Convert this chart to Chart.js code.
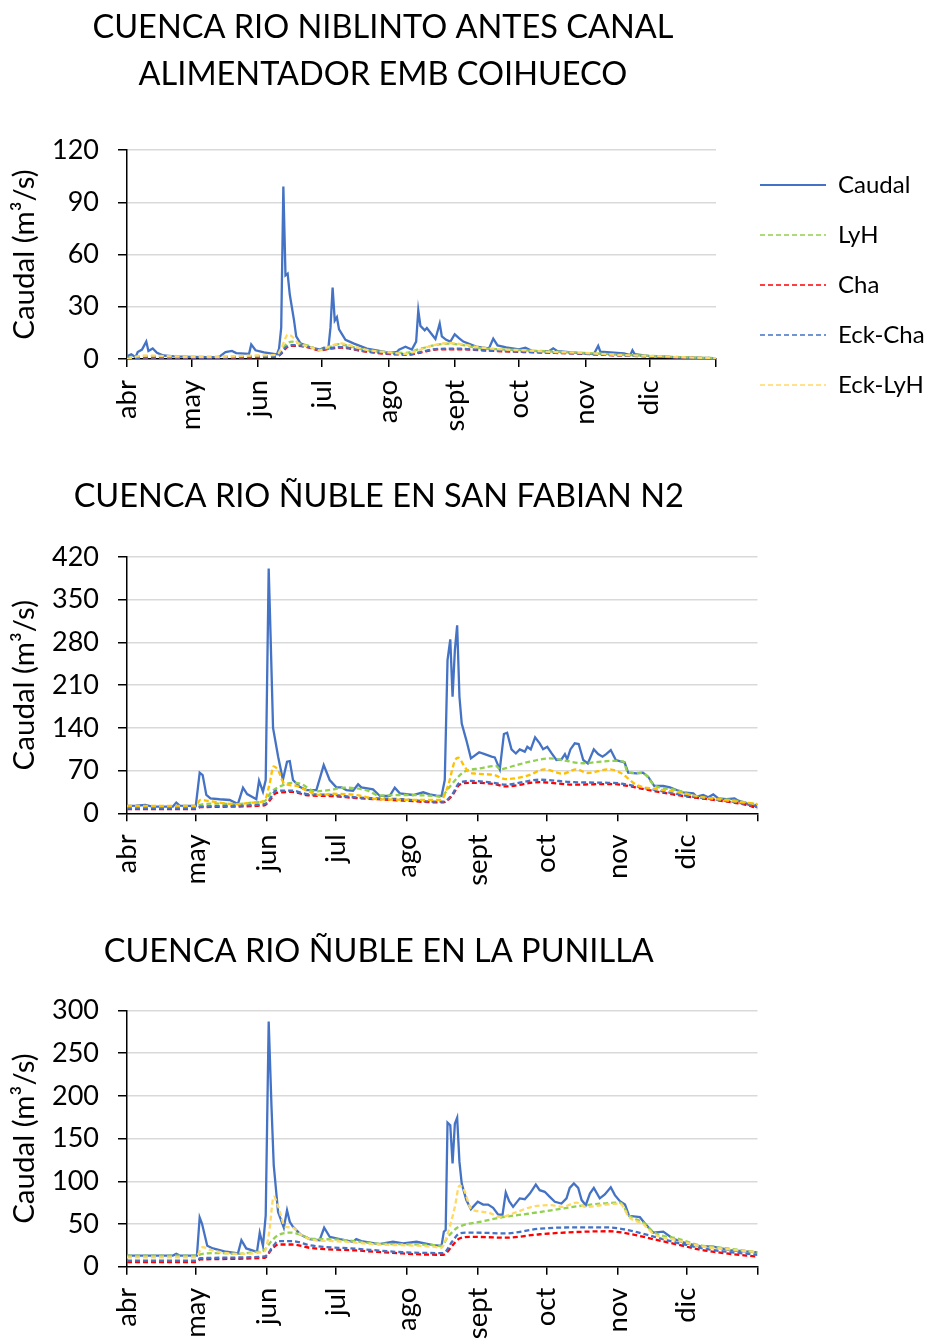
<!DOCTYPE html>
<html>
<head>
<meta charset="utf-8">
<script src="https://cdn.jsdelivr.net/npm/chart.js@4.4.1/dist/chart.umd.min.js"></script>
<style>
  body { margin: 0; background: #fff; overflow: hidden; }
  .box { position: absolute; left: 0; }
</style>
</head>
<body>
<div class="box" style="top:0"><canvas id="c1" width="928" height="445"></canvas></div>
<div class="box" style="top:445px"><canvas id="c2" width="760" height="450"></canvas></div>
<div class="box" style="top:895px"><canvas id="c3" width="760" height="447"></canvas></div>
<script>
// days counted from 1 april, month starts on the x axis
const monthDays = [0, 30, 61, 91, 122, 153, 183, 214, 244, 275];
const monthNames = ['abr', 'may', 'jun', 'jul', 'ago', 'sept', 'oct', 'nov', 'dic'];
const seriesNames = ['Caudal', 'LyH', 'Cha', 'Eck-Cha', 'Eck-LyH'];

// ---- niblinto [day, m3/s]
const caudal1 = [[0,1.5],[2,2.7],[4,1],[5,4],[7,5.4],[9,10],[10,4.6],[12,6],[14,3.6],[17,2],[22,1.5],[30,1.2],[38,1],[43,1.2],[46,4],[49,4.6],[51,3.4],[57,3],[58,8.4],[60,5],[64,3.8],[70,2.7],[71,6],[72,18],[73,99],[74,48],[75,49],[76,37],[78,22],[79,13],[81,9],[85,7],[90,5.4],[92,6.5],[94,6],[95,18],[96,41],[97,22],[98,24],[99,17],[102,11],[106,8.8],[112,6],[121,4],[126,4],[127,5.4],[130,7],[133,5.4],[135,10],[136,28],[137,19],[139,16.5],[140,17.8],[142,14.6],[144,11.5],[146,20.4],[147,13],[149,11],[151,10],[153,14.2],[155,12],[157,10],[163,7.1],[169,6.1],[171,11.7],[173,7.8],[177,6.7],[183,5.5],[186,6.5],[189,4.7],[197,4.5],[199,6.1],[201,4.5],[213,3.2],[218,2.8],[220,7.6],[221,4.2],[232,3.2],[235,2.3],[236,5],[237,2.8],[244,1.6],[257,0.9],[275,0.4]];
const lyh1 = [[0,0.5],[5,1.2],[15,1.5],[30,1.2],[45,1.3],[60,1.6],[70,2],[72,4],[74,8],[77,10],[80,9],[85,7.5],[90,5.2],[95,7],[99,8.5],[105,7],[112,5],[121,4],[130,3.5],[136,5.5],[142,7.5],[150,8.8],[157,8],[163,6.5],[175,5.5],[185,5],[200,4.2],[213,3.5],[230,2.5],[244,1.8],[260,1],[275,0.5]];
const cha1 = [[0,0.3],[10,0.7],[30,0.7],[50,0.8],[65,1.2],[70,1.5],[72,3],[74,6],[76,7.5],[80,7.5],[85,6.5],[90,5],[95,6],[100,6.5],[110,4.5],[121,3],[132,2.5],[138,4],[145,5.5],[155,5.6],[165,5],[185,4],[200,3.5],[213,3],[230,2],[244,1.5],[260,0.8],[275,0.4]];
const eckCha1 = [[0,0.4],[10,0.8],[30,0.8],[50,0.9],[65,1.3],[70,1.6],[72,3.5],[74,6.5],[76,8],[80,7.8],[85,6.8],[90,5.2],[95,6.3],[100,6.8],[110,4.7],[121,3.2],[132,2.7],[138,4.3],[145,5.8],[155,5.9],[165,5.2],[185,4.2],[200,3.6],[213,3.1],[230,2.1],[244,1.6],[260,0.9],[275,0.5]];
const eckLyh1 = [[0,0],[5,1.5],[10,2],[20,1.5],[30,1.2],[45,1.3],[60,2],[70,2.5],[72,6],[74,12],[75,14],[77,13],[80,9],[85,7.2],[90,5],[95,7.5],[100,9],[105,7.5],[112,5.2],[121,4],[130,3],[136,5],[142,7.5],[150,9.2],[157,8.3],[163,7],[175,5.5],[185,5],[200,4],[213,3.5],[230,2.3],[244,1.8],[260,1],[275,0.5]];

// ---- nuble en san fabian
const caudal2 = [[0,12],[4,12.5],[8,13.6],[11,11],[20,11],[21.5,17.5],[23,12.5],[30,12],[31.7,66.5],[33,62.7],[34.6,30],[36.4,24.5],[40.4,23],[44.8,21.8],[48.4,15.3],[50.6,42],[52.4,31.6],[56.4,23],[57.6,53.5],[59.3,35.5],[60.5,54.5],[61.8,401],[62.6,294],[63.7,140],[65.9,93],[68,55],[69.8,84.5],[71,85.6],[72.4,54.5],[75.3,43.6],[78.3,38],[82.6,38],[85.8,79],[88.4,54.5],[91.3,42.5],[93.5,42.5],[95.7,38],[98.6,37],[100.8,47.5],[102.2,42.5],[107.3,39.3],[110.3,28.4],[114.6,28.4],[116.8,42],[119,32.7],[124.8,30],[129.2,34.4],[132,31],[135,29],[137.2,28.4],[138.6,54.5],[139.8,251],[141,285],[142,191],[143,267],[144,308],[145,191],[146,147],[148,120],[150,90],[153.6,100],[156,97],[159,93],[160.4,91.6],[162.6,72],[164.4,130],[165.8,132],[167.7,104.7],[169.6,98],[171.3,104.7],[173.5,101],[174.6,109],[176.1,104.7],[178,124.4],[180,114.6],[181.5,105],[183.3,109],[185,99.3],[187.3,87.3],[189.5,88.4],[191,97],[192,88.4],[193.4,104.7],[195.3,114.6],[197,113.5],[199,87.3],[201,81.8],[203.6,104.7],[205.5,97],[207.4,92.7],[209,97],[211,103.6],[213.2,87.3],[215.7,84.6],[217,83.5],[218.6,66.6],[222.2,65.5],[225,66.6],[227.3,60],[230,44.7],[233.9,44.7],[236.8,42.5],[239.7,38.2],[242.6,34.4],[247,32.7],[248.4,27.3],[251.3,30],[253.5,26.2],[255.7,31],[257.9,24.5],[261.5,23],[265,24.5],[266.6,20.7],[270.2,16.4],[273,11],[275,15.3]];
const lyh2 = [[0,10],[30,10],[32,14],[40,16],[48,15],[56,18],[60,20],[63,35],[68,46],[72,50],[76,48],[82,36],[88,38],[95,42],[105,37],[110,29],[120,30],[135,28],[137,27],[140,40],[144,58],[147,68],[154,73.6],[161,77.5],[162.6,72],[168.4,77.5],[175.7,84.6],[184.4,90],[190,87],[199,82],[204.8,84],[212,86],[216.4,85],[218.6,66.6],[225,66],[230,46],[239.7,38],[248,28],[263,22],[275,14.7]];
const cha2 = [[0,7],[30,7],[32,10],[60,13],[62,20],[65,33],[72,35],[78,30],[90,28],[100,25],[120,21],[135,18],[138,18],[142,30],[145,47],[150,50],[160,48],[165,44],[180,51],[195,47],[210,48],[215,47],[225,40],[235,33],[245,27],[260,20],[270,14],[275,8]];
const eckCha2 = [[0,8],[30,8],[32,11],[60,15],[62,22],[65,37],[72,37],[78,32],[90,30],[100,26],[120,23],[135,19],[138,19],[142,32],[145,50],[150,53],[160,50],[165,47],[180,55],[195,51],[210,50],[215,49],[225,42],[235,35],[245,28],[260,21],[270,15],[275,10]];
const eckLyh2 = [[0,12],[30,12],[32,22],[36,20],[48,15],[56,18],[60,21],[62,45],[64,77],[66,70],[68,52],[70,47],[74,45],[78,38],[84,30],[90,32],[100,30],[110,23],[135,22],[137,22],[140,45],[143,86],[144.5,91],[147,78],[149,68],[152,65],[160,63],[165,56],[175,62],[182,72],[190,65],[196,72],[201,66],[210,72],[215,67],[218,59],[222,47],[230,40],[240,35],[250,27],[260,22],[275,15]];

// ---- nuble en la punilla
const caudal3 = [[0,12.9],[20,13],[21.5,15],[23,13],[30.5,13],[31.7,57.7],[32.7,50.6],[35,24.5],[37.5,21.4],[43.3,17.5],[48.4,15.6],[49.9,31],[52,21.4],[56.7,17.5],[57.9,39.7],[59.3,24.5],[60.5,60],[61.8,287],[63,189],[64,119],[65.9,64],[68.4,45.6],[69.8,66],[71,52.6],[72.4,46.7],[76,37],[79.7,32.3],[84,31],[86,45.6],[88.4,35],[92.8,32.3],[98.6,29.2],[100,32.3],[102.2,30],[110,26.5],[116,29.2],[120.4,27.3],[126.3,29.2],[133.5,25.3],[137.2,24.5],[138.2,41],[139,43],[139.8,168.7],[141,165.6],[142,120.8],[143,167.5],[144,174.5],[145,122.7],[146,97.4],[148,78],[150,67.4],[153,76],[155.3,72.8],[157.5,72.8],[159.7,69],[161.9,61],[163.8,61],[165.2,86.9],[166.7,76.7],[168.4,70],[171.3,80],[173.5,79],[175.7,85.7],[178.3,96.2],[180,89.6],[182.2,87.7],[184.4,81.8],[186.6,76],[189.5,74],[191.7,80],[193.1,92.3],[194.9,97.4],[196.8,92.3],[198.3,78],[200.1,72],[201.9,85.7],[203.6,92.3],[206.2,80],[208.4,84.5],[211,93],[212.8,83.8],[215,76.7],[217.2,72.8],[219,59.6],[223.7,58],[225.9,50.6],[229.5,40],[233.9,41],[238,33],[244,27.3],[249.9,24],[255.7,23.4],[263,19.5],[275,16.8]];
const lyh3 = [[0,13],[30,13],[33,15],[40,16],[48,15],[55,17],[60,20],[63,30],[66,37],[72,40],[76,37],[80,33],[90,32],[110,27],[135,25],[137,24],[140,35],[144,45.6],[147,49],[155,53],[163,57.6],[175,62],[185,66],[200,72],[215,75],[219,60],[225,52],[230,40],[240,33],[250,25],[260,22],[275,17]];
const cha3 = [[0,5.5],[30,5.5],[32,8.5],[60,10.5],[63,20],[66,26],[72,26],[80,22],[100,19],[120,15.5],[135,14],[138,14],[142,25],[145,33],[150,35],[165,34],[180,38],[195,40.5],[210,41.5],[220,38],[230,32],[240,26],[250,20],[260,16],[275,11.7]];
const eckCha3 = [[0,7],[30,7],[32,10],[60,12],[64,25],[66,30],[72,30],[80,25],[100,21],[120,17],[135,16],[138,16],[142,30],[145,39],[150,40],[165,39],[180,44.5],[195,46],[210,46],[220,42],[230,35],[240,28],[250,22],[260,18],[275,14]];
const eckLyh3 = [[0,11],[30,11],[33,23],[36,20],[48,15],[60,18],[62,40],[64,82],[66,70],[69,47],[72,46],[76,37],[82,31],[90,30],[110,26],[135,23],[137,22],[140,40],[143,70],[145,95],[147,90],[150,68],[153,65],[158,63],[163,58],[168,62],[178,71],[185,72],[190,70],[196,75],[200,70],[210,73],[215,74],[219,58],[225,50],[230,38],[240,31],[250,24],[260,21],[275,17]];

const FONT = 'Lato';

function makeSets(sets, yellow) {
  const colors = ['#4472C4', '#92D050', '#FF0000', '#4472C4', yellow];
  return sets.map((d, i) => ({
    label: seriesNames[i],
    data: d,
    borderColor: colors[i],
    backgroundColor: colors[i],
    borderWidth: 2.3,
    borderDash: i ? [5, 3] : [],
    pointRadius: 0,
    cubicInterpolationMode: i ? 'monotone' : 'default',
    order: 5 - i
  }));
}

function makeOptions(o) {
  return {
    responsive: false,
    animation: false,
    layout: { padding: { right: o.padRight } },
    plugins: {
      title: {
        display: true, text: o.title, color: '#000',
        font: { family: FONT, size: 32.5, weight: 'normal', lineHeight: '47px' },
        padding: o.titlePad
      },
      legend: o.legend || { display: false },
      tooltip: { enabled: false }
    },
    scales: {
      x: {
        type: 'linear', min: 0, max: 275,
        afterBuildTicks: (s) => { s.ticks = monthDays.map((v) => ({ value: v })); },
        afterFit: (s) => { s.height = o.axisH; s.paddingLeft = 0; s.paddingRight = 0; },
        ticks: {
          autoSkip: false, minRotation: 90, maxRotation: 90, padding: 13, color: '#000',
          font: { family: FONT, size: 27.5 },
          callback: (v, i) => monthNames[i] || ''
        },
        grid: { drawOnChartArea: false, color: '#000', lineWidth: 1.5, tickLength: 8 },
        border: { color: '#000', width: 1.5 }
      },
      y: {
        min: 0, max: o.yMax,
        afterFit: (s) => { s.width = 127; s.paddingTop = 0; s.paddingBottom = 0; },
        ticks: { stepSize: o.step, padding: 19, color: '#000', font: { family: FONT, size: 27 } },
        grid: {
          color: (c) => (c.tick && c.tick.value === 0 ? 'rgba(0,0,0,0)' : '#D9D9D9'),
          lineWidth: 1.5, tickColor: '#000', tickLength: 9, tickWidth: 1.5
        },
        border: { color: '#000', width: 1.5 },
        title: {
          display: true, text: 'Caudal (m³/s)', color: '#000',
          font: { family: FONT, size: 29.5 }, padding: { top: 6.5, bottom: 0 }
        }
      }
    }
  };
}

// first chart: title centred over the 766px wide chart, legend outside the plot on the right
const placeBoxes1 = {
  id: 'placeBoxes1',
  afterLayout(chart) {
    const t = chart.titleBlock;
    if (t) { t.left = 0; t.right = 766; t.width = 766; }
    const lg = chart.legend;
    if (lg) {
      lg.left = 734; lg.top = 147; lg.right = 928; lg.bottom = 445;
      lg.width = lg.right - lg.left;
      lg.height = lg.bottom - lg.top;
    }
  }
};

const legend1 = {
  display: true,
  position: 'chartArea',
  align: 'start',
  labels: {
    usePointStyle: true, pointStyle: 'line', pointStyleWidth: 66, padding: 26,
    color: '#000', font: { family: FONT, size: 24 },
    generateLabels: (chart) => chart.data.datasets.map((ds, i) => ({
      text: ds.label, fillStyle: ds.borderColor, strokeStyle: ds.borderColor,
      lineWidth: i ? 1.6 : 2, lineDash: ds.borderDash, pointStyle: 'line',
      hidden: false, datasetIndex: i, fontColor: '#000'
    }))
  }
};

new Chart(document.getElementById('c1'), {
  type: 'line',
  data: { datasets: makeSets([caudal1, lyh1, cha1, eckCha1, eckLyh1], '#FFD966') },
  options: makeOptions({
    title: ['CUENCA RIO NIBLINTO ANTES CANAL', 'ALIMENTADOR EMB COIHUECO'],
    titlePad: { top: 4.5, bottom: 51.5 },
    padRight: 212, axisH: 86, yMax: 120, step: 30, legend: legend1
  }),
  plugins: [placeBoxes1]
});

new Chart(document.getElementById('c2'), {
  type: 'line',
  data: { datasets: makeSets([caudal2, lyh2, cha2, eckCha2, eckLyh2], '#FFC000') },
  options: makeOptions({
    title: 'CUENCA RIO ÑUBLE EN SAN FABIAN N2',
    titlePad: { top: 28.5, bottom: 36.5 },
    padRight: 2.5, axisH: 81.7, yMax: 420, step: 70
  })
});

new Chart(document.getElementById('c3'), {
  type: 'line',
  data: { datasets: makeSets([caudal3, lyh3, cha3, eckCha3, eckLyh3], '#FFD966') },
  options: makeOptions({
    title: 'CUENCA RIO ÑUBLE EN LA PUNILLA',
    titlePad: { top: 33.5, bottom: 35 },
    padRight: 2.5, axisH: 75.3, yMax: 300, step: 50
  })
});
</script>
</body>
</html>
